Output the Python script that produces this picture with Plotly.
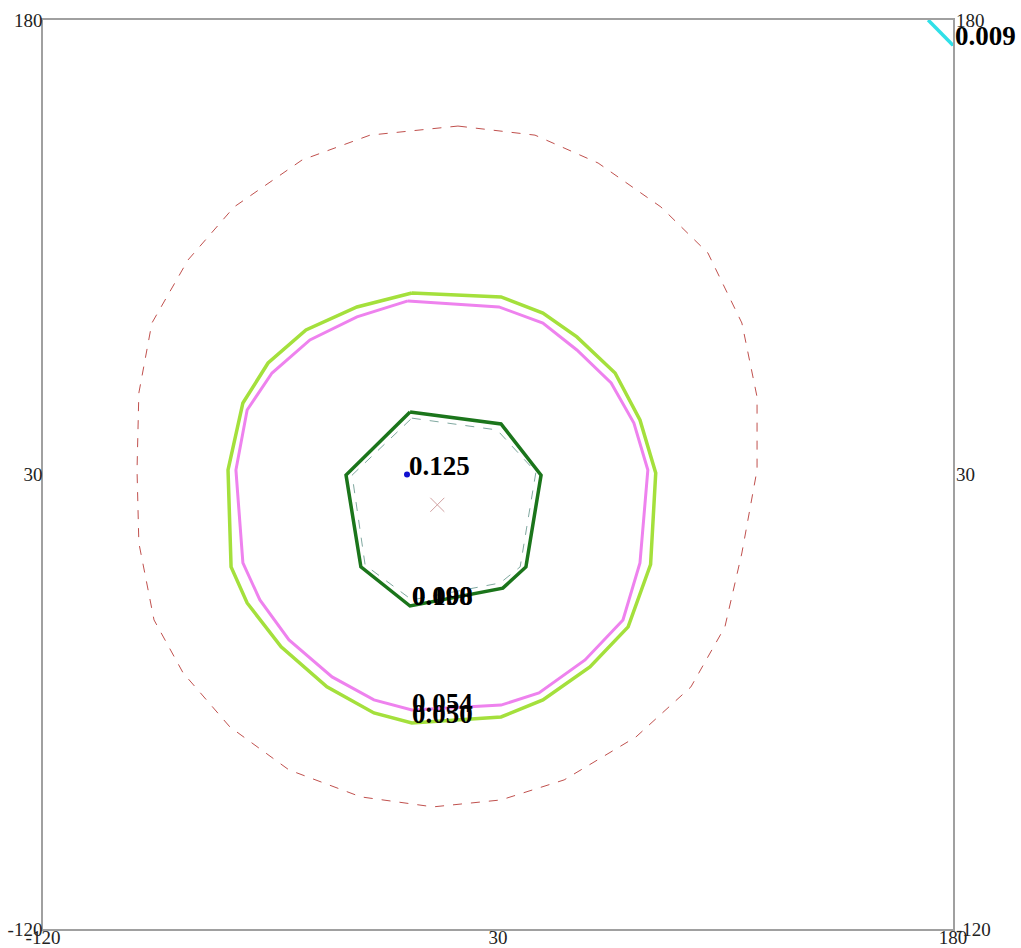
import plotly.graph_objects as go

# axis ticks
tick_vals = [-120, 30, 180]
tick_text = ["-120", "30", "180"]

# contour lines (data coordinates)
lvl_050_x = [1.6, 31.0, 44.8, 56.0, 68.6, 76.8, 82.0, 80.3, 72.9, 60.3, 44.8, 31.0, 1.6, -10.9, -26.4, -41.5, -52.7, -58.0, -59.0, -54.1, -45.8, -33.3, -16.5, 1.6]
lvl_050_y = [89.9, 88.6, 83.3, 75.4, 63.5, 48.0, 30.5, 0.3, -20.3, -33.5, -44.4, -50.0, -52.0, -48.7, -40.1, -26.9, -12.4, -0.5, 31.5, 53.6, 66.8, 77.7, 85.3, 89.9]

lvl_054_x = [0.3, 30.3, 44.8, 56.0, 67.3, 74.8, 79.4, 76.8, 71.2, 58.7, 43.5, 31.0, 1.6, -10.9, -24.7, -38.9, -48.5, -54.1, -56.4, -52.7, -44.5, -32.0, -16.5, 0.3]
lvl_054_y = [87.3, 85.3, 80.0, 71.1, 60.2, 47.0, 31.5, 0.8, -18.0, -31.2, -42.1, -46.1, -47.7, -44.4, -36.8, -24.6, -11.4, 0.8, 31.5, 51.3, 63.5, 74.4, 82.0, 87.3]

lvl_100_x = [1.0, 31.0, 44.2, 39.2, 31.6, 1.0, -15.2, -20.1, 1.0]
lvl_100_y = [50.6, 46.7, 29.8, -0.5, -7.5, -13.4, -0.5, 29.8, 50.6]

lvl_098_x = [1.6, 29.7, 42.5, 37.3, 30.7, 1.6, -13.8, -18.1, 1.6]
lvl_098_y = [48.6, 44.7, 30.8, -0.5, -5.8, -11.4, 0.1, 29.8, 48.6]

outer_x = [16.8, 42.2, 63.0, 83.7, 99.2, 110.4, 115.4, 115.4, 110.4, 104.8, 93.6, 75.5, 51.8, 31.0, 8.6, -15.2, -38.9, -58.4, -73.8, -83.4, -88.4, -89.0, -88.4, -84.1, -72.2, -57.0, -34.6, -12.2, 16.8]
outer_y = [145.0, 142.0, 132.8, 118.3, 103.1, 80.0, 55.6, 31.5, 4.1, -20.3, -40.1, -56.6, -70.8, -77.4, -79.7, -76.4, -67.5, -53.3, -35.5, -18.0, 7.4, 31.5, 56.9, 80.0, 100.8, 118.3, 133.8, 142.0, 145.0]

lvl_009_x = [171.8, 180.0]
lvl_009_y = [180.0, 171.7]

peak_x = [0]
peak_y = [30]
center_x = [10]
center_y = [20]

# contour labels: text and where it sits
label_text = ["0.125", "0.098", "0.100", "0.054", "0.050", "0.009"]
label_x = [0.0, 1.0, 1.0, 1.0, 1.0, 180.0]
label_y = [30.0, -13.1, -13.1, -48.4, -52.0, 171.7]

fig = go.Figure()
fig.add_trace(go.Scatter(x=outer_x, y=outer_y, mode="lines",
                         line=dict(color="#c0504d", width=1, dash="dash")))
fig.add_trace(go.Scatter(x=lvl_050_x, y=lvl_050_y, mode="lines",
                         line=dict(color="#a4e03c", width=3.5)))
fig.add_trace(go.Scatter(x=lvl_054_x, y=lvl_054_y, mode="lines",
                         line=dict(color="#ee82ee", width=3)))
fig.add_trace(go.Scatter(x=lvl_098_x, y=lvl_098_y, mode="lines",
                         line=dict(color="#80a8a0", width=1, dash="dash")))
fig.add_trace(go.Scatter(x=lvl_100_x, y=lvl_100_y, mode="lines",
                         line=dict(color="#1b751b", width=3.5)))
fig.add_trace(go.Scatter(x=lvl_009_x, y=lvl_009_y, mode="lines",
                         line=dict(color="#30e0e8", width=3.5), cliponaxis=False))
fig.add_trace(go.Scatter(x=center_x, y=center_y, mode="markers",
                         marker=dict(symbol="x-thin", size=14, line=dict(color="#d0a0a0", width=1))))
fig.add_trace(go.Scatter(x=peak_x, y=peak_y, mode="markers",
                         marker=dict(symbol="circle", size=6, color="#1010d0")))
# right-hand axis trace (invisible)
fig.add_trace(go.Scatter(x=[30], y=[30], yaxis="y2", mode="markers",
                         marker=dict(opacity=0), hoverinfo="skip"))

for t, x, y in zip(label_text, label_x, label_y):
    fig.add_annotation(x=x, y=y, text="<b>" + t + "</b>", showarrow=False,
                       xanchor="left", yanchor="middle", yshift=9,
                       font=dict(family="Liberation Serif", size=27, color="black"))

axis_font = dict(family="Liberation Serif", size=19, color="#222222")
common = dict(range=[-120, 180], tickvals=tick_vals, ticktext=tick_text,
              showgrid=False, zeroline=False, ticks="", tickfont=axis_font,
              automargin=False)
fig.update_layout(
    width=1021, height=948, autosize=False,
    margin=dict(l=43, r=68, t=20, b=19),
    paper_bgcolor="white", plot_bgcolor="white",
    showlegend=False,
    xaxis=dict(**common, showline=True, mirror=True, linecolor="#a0a0a0",
               linewidth=1.5, ticklabelstandoff=-10),
    yaxis=dict(**common, showline=True, mirror=True, linecolor="#a0a0a0",
               linewidth=1.5, ticklabelstandoff=-5),
    yaxis2=dict(**common, overlaying="y", side="right", showline=False,
                ticklabelstandoff=2),
)

fig.write_html("out.html", config={"displayModeBar": False},
               post_script="document.body.style.margin='0';")
